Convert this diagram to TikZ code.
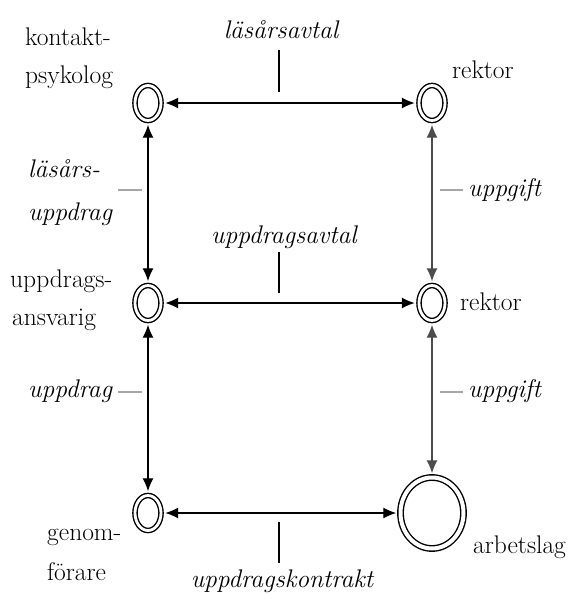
\documentclass[tikz,border=0pt]{standalone}
\usetikzlibrary{arrows.meta,shapes.geometric}
\begin{document}
\begin{tikzpicture}[x=1pt,y=-1pt,
  lab/.style={inner sep=0pt, font=\fontsize{25.5}{36}\selectfont},
  ilab/.style={inner sep=0pt, font=\fontsize{25.5}{36}\selectfont\itshape},
  role/.style={ellipse, draw, double, double distance=2.8pt, line width=1.4pt, minimum width=26pt, minimum height=35pt, inner sep=0pt},
  bigrole/.style={role, double distance=4pt, minimum width=63pt, minimum height=71pt},
  link/.style={{Latex[length=13pt,width=11pt]}-{Latex[length=13pt,width=11pt]}, line width=1.3pt, shorten >=3.5pt, shorten <=3.5pt},
  glink/.style={link, draw=black!70},
  tick/.style={line width=1.1pt},
  gtick/.style={line width=2.5pt, draw=black!35},
]
\useasboundingbox (0,0) rectangle (568,595);
% role nodes
\node[role] (kp) at (148,103) {};
\node[role] (r1) at (432,103) {};
\node[role] (ua) at (148,303) {};
\node[role] (r2) at (432,303) {};
\node[role] (gf) at (148,513) {};
\node[bigrole] (al) at (432,513) {};
% names
\node[lab, anchor=base west] (kp1) at (25,45) {kontakt-};
\node[lab, anchor=base west] (kp2) at (25,83) {psykolog};
\node[lab, anchor=base west] (r1l) at (452,78) {rektor};
\node[lab, anchor=base west] (ua1) at (10,287) {uppdrags-};
\node[lab, anchor=base west] (ua2) at (12,325) {ansvarig};
\node[lab, anchor=base west] (r2l) at (460,310) {rektor};
\node[lab, anchor=base west] (gf1) at (47,540) {genom-};
\node[lab, anchor=base west] (gf2) at (47,580) {förare};
\node[lab, anchor=base west] (al1) at (473,553) {arbetslag};
% relation labels
\node[ilab, anchor=base] (avt1) at (281,38) {läsårsavtal};
\node[ilab, anchor=base west] (lu1) at (28,177) {läsårs-};
\node[ilab, anchor=base west] (lu2) at (28,220) {uppdrag};
\node[ilab, anchor=base west] (ug1) at (468,196) {uppgift};
\node[ilab, anchor=base] (avt2) at (284,243) {uppdragsavtal};
\node[ilab, anchor=base west] (ud) at (28,397) {uppdrag};
\node[ilab, anchor=base west] (ug2) at (468,397) {uppgift};
\node[ilab, anchor=base] (kon) at (282,587) {uppdragskontrakt};
% connectors
\draw[link] (kp) -- (r1);
\draw[link] (kp) -- (ua);
\draw[glink] (r1) -- (r2);
\draw[link] (ua) -- (r2);
\draw[link] (ua) -- (gf);
\draw[glink] (r2) -- (al);
\draw[link] (gf) -- (al);
% ticks
\coordinate (t1a) at (279,50); \coordinate (t1b) at (279,92);
\coordinate (t2a) at (279,252); \coordinate (t2b) at (279,293);
\coordinate (t3a) at (279,522); \coordinate (t3b) at (279,563);
\draw[tick] (t1a) -- (t1b);
\draw[tick] (t2a) -- (t2b);
\draw[tick] (t3a) -- (t3b);
\coordinate (g1a) at (118,190); \coordinate (g1b) at (142,190);
\coordinate (g2a) at (118,392); \coordinate (g2b) at (142,392);
\coordinate (g3a) at (440,190); \coordinate (g3b) at (463,190);
\coordinate (g4a) at (440,392); \coordinate (g4b) at (463,392);
\draw[gtick] (g1a) -- (g1b);
\draw[gtick] (g2a) -- (g2b);
\draw[gtick] (g3a) -- (g3b);
\draw[gtick] (g4a) -- (g4b);
\end{tikzpicture}
\end{document}
